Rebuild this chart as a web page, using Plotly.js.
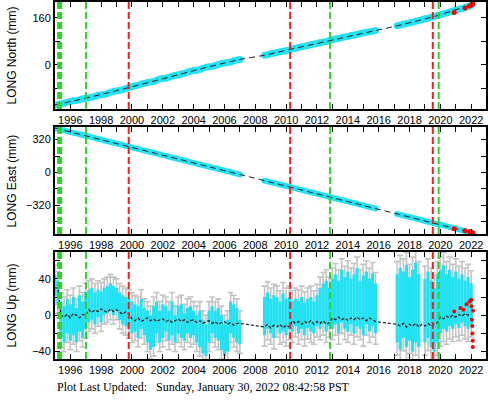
<!DOCTYPE html>
<html><head><meta charset="utf-8">
<script src="https://cdn.plot.ly/plotly-3.0.1.min.js"></script>
<style>html,body{margin:0;padding:0;background:#fff}</style>
</head><body><div id="chart" style="width:488px;height:400px"></div>
<script>
// sample epochs (decimal years)
const years = [
1995.0,1995.2,1995.4,1995.6,1995.8,1996.0,1996.2,1996.4,1996.6,1996.8,
1997.0,1997.2,1997.4,1997.6,1997.8,1998.0,1998.2,1998.4,1998.6,1998.8,
1999.0,1999.2,1999.4,1999.6,1999.8,2000.0,2000.2,2000.4,2000.6,2000.8,
2001.0,2001.2,2001.4,2001.6,2001.8,2002.0,2002.2,2002.4,2002.6,2002.8,
2003.0,2003.2,2003.4,2003.6,2003.8,2004.0,2004.2,2004.4,2004.6,2004.8,
2005.0,2005.2,2005.4,2005.6,2005.8,2006.0,2006.2,2006.4,2006.6,2006.8,
2007.0,
2008.6,2008.8,2009.0,2009.2,2009.4,2009.6,2009.8,2010.0,2010.2,2010.4,
2010.6,2010.8,2011.0,2011.2,2011.4,2011.6,2011.8,2012.0,2012.2,2012.4,
2012.6,2012.8,2013.0,2013.2,2013.4,2013.6,2013.8,2014.0,2014.2,2014.4,
2014.6,2014.8,2015.0,2015.2,2015.4,2015.6,2015.8,
2017.2,2017.4,2017.6,2017.8,2018.0,2018.2,2018.4,2018.6,2018.8,2019.0,
2019.2,2019.4,2019.6,2019.8,2020.0,2020.2,2020.4,2020.6,2020.8,2021.0,
2021.2,2021.4,2021.6,2021.8,2022.0];

const north = [
-136,-134,-132,-130,-127,-124,-122,-121,-118,-115,
-113,-112,-110,-106,-103,-101,-100,-97,-93,-90,
-88,-87,-84,-80,-77,-73,-71,-69,-65,-62,
-60,-58,-56,-52,-48,-46,-45,-42,-38,-35,
-33,-31,-28,-24,-21,-19,-18,-15,-11,-8,
-6,-5,-2,2,5,7,8,10,14,17,
19,
33,35,38,40,42,45,47,49,51,55,
57,59,62,64,66,69,71,73,76,78,
80,83,86,88,90,93,95,97,100,102,
104,107,109,111,113,115,117,
133,136,138,141,143,146,149,151,154,157,
159,162,165,168,171,174,177,180,183,186,
189,192,195,199,203];

const east = [
432,425,417,410,402,395,387,380,372,364,
357,350,342,335,327,320,312,304,297,290,
282,274,267,259,252,244,237,229,222,214,
207,199,192,184,177,169,162,154,147,139,
131,124,116,109,101,94,86,79,71,64,
56,49,41,34,26,19,11,4,-4,-11,
-19,
-79,-87,-94,-102,-109,-117,-124,-132,-139,-147,
-154,-162,-169,-177,-184,-192,-199,-207,-214,-222,
-229,-237,-244,-252,-259,-267,-274,-282,-289,-297,
-304,-312,-319,-327,-334,-342,-349,
-403,-410,-418,-425,-433,-440,-448,-455,-463,-470,
-478,-485,-493,-500,-508,-515,-523,-530,-538,-545,
-553,-560,-568,-575,-583];

// Up: dense scatter range (low / high) per sample
const upLow = [
22,12,-25,-30,-20,-28,-22,-30,-18,-25,
-15,-8,-5,-10,-2,-8,0,2,5,0,
5,-5,-10,-12,-15,-20,-18,-25,-15,-22,
-30,-38,-35,-20,-30,-25,-18,-28,-22,-30,
-20,-25,-28,-20,-25,-22,-30,-35,-42,-45,
-30,-20,-25,-28,-38,-45,-40,-20,-25,-30,
-32,
-22,-15,-20,-25,-12,-20,-18,-22,-15,-18,
-12,-20,-15,-22,-14,-18,-20,-12,-15,-10,
-18,-12,-15,-10,-20,-8,-15,-18,-10,-20,
-12,-15,-22,-10,-18,-12,-20,
-30,-38,-25,-35,-28,-40,-30,-35,null,-30,
-25,-35,-40,-30,-20,-15,-18,-12,-15,-10,
-14,-8,-12,-15,-10];
const upHigh = [
45,38,15,10,18,12,20,8,22,15,
25,28,30,25,28,26,30,32,35,32,
30,25,22,20,18,15,12,10,18,8,
5,0,10,15,5,12,10,5,15,0,
10,12,2,8,10,5,0,5,-5,-10,
5,10,5,8,0,-10,-5,15,12,8,
-5,
20,25,18,22,20,15,24,18,20,15,
18,16,20,14,18,20,15,22,30,35,
38,30,40,45,38,50,42,48,40,45,
52,38,44,48,40,46,35,
45,52,48,55,42,50,58,45,null,40,
48,38,30,45,50,55,45,50,42,48,
40,45,38,42,35];
const upSigmaBySegment = [10, 12, 14];
const segmentStarts = [1995.0, 2008.6, 2017.2];

const upModel = [
30,30,0,-2,1,-3,2,0,-3,1,
0,6,3,6,4,7,5,3,7,4,
6,3,1,4,2,-4,-6,-3,-7,-5,
-3,-6,-4,-7,-5,-4,-7,-5,-8,-6,
-4,-7,-5,-8,-6,-5,-8,-6,-9,-7,
-6,-9,-7,-10,-8,-7,-10,-8,-11,-9,
-9,
-13,-10,-14,-11,-13,-10,-14,-11,-13,-6,
-9,-7,-10,-7,-9,-6,-10,-7,-9,-6,
-10,-8,-3,-5,-2,-5,-3,-6,-3,-5,
-2,-5,-3,-6,-3,-5,-7,
-10,-12,-9,-13,-10,-12,-9,-13,-10,-12,
-9,-12,-10,-8,-2,-4,-1,-3,0,-2,
1,-1,2,0,1];

const modelYears = [1995.0,1997.0,1999.79,2002.0,2005.0,2007.0,2008.6,2010.26,2012.85,2015.8,2017.2,2019.51,2022.1];
const northModel = [-136,-113,-77,-46,-6,19,33,53,84,117,133,163,206];
const eastModel = [432,357,252,169,56,-19,-79,-141,-238,-349,-403,-489,-587];

// recent (rapid) solutions in red
const redYears = [2020.9,2021.6,2021.9,2022.05,2022.1];
const redNorth = [178,194,200,205,208];
const redEast = [-547,-565,-576,-584,-588];
const redUpYears = [2020.9,2021.3,2021.5,2021.7,2021.9,2022.0,2022.02,2022.05,2022.07,2022.08,2022.1,2022.1,2022.12];
const redUp = [4,8,6,12,15,17,10,-5,-12,-20,-28,-35,5];

const redEvents = [1999.79, 2010.26, 2019.51];
const greenEvents = [1997.02, 2012.85, 2019.89];
const greenThick = [1995.31];

const CYAN = '#22e1f2', GRAY = '#c4c4c4';

function sigmaFor(t){ let s = upSigmaBySegment[0]; segmentStarts.forEach((st,i)=>{ if(t>=st) s = upSigmaBySegment[i]; }); return s; }
const upMid = upLow.map((lo,i)=> lo===null ? null : (lo+upHigh[i])/2);

const traces = [
  {x:years, y:north, xaxis:'x', yaxis:'y', mode:'markers', marker:{color:CYAN, size:7}, hoverinfo:'skip'},
  {x:modelYears, y:northModel, xaxis:'x', yaxis:'y', mode:'lines', line:{color:'#222', width:1, dash:'6px,4px'}},
  {x:redYears, y:redNorth, xaxis:'x', yaxis:'y', mode:'markers', marker:{color:'red', size:5}},

  {x:years, y:east, xaxis:'x2', yaxis:'y2', mode:'markers', marker:{color:CYAN, size:6}},
  {x:modelYears, y:eastModel, xaxis:'x2', yaxis:'y2', mode:'lines', line:{color:'#222', width:1, dash:'6px,4px'}},
  {x:redYears, y:redEast, xaxis:'x2', yaxis:'y2', mode:'markers', marker:{color:'red', size:5}},

  {x:years, y:upMid, xaxis:'x3', yaxis:'y3', mode:'markers', marker:{size:1, opacity:0},
   error_y:{type:'data', symmetric:false,
     array: upHigh.map((h,i)=> h===null?null: h + sigmaFor(years[i]) - upMid[i]),
     arrayminus: upLow.map((l,i)=> l===null?null: upMid[i] - (l - sigmaFor(years[i]))),
     color:GRAY, thickness:1.6, width:3}},
  {x:years, y:upMid, xaxis:'x3', yaxis:'y3', mode:'markers', marker:{size:1, opacity:0},
   error_y:{type:'data', symmetric:false,
     array: upHigh.map((h,i)=> h===null?null: h - upMid[i]),
     arrayminus: upLow.map((l,i)=> l===null?null: upMid[i] - l),
     color:CYAN, thickness:3.2, width:0}},
  {x:years, y:upModel, xaxis:'x3', yaxis:'y3', mode:'lines', line:{color:'#111', width:1.2, dash:'3px,2px'}},
  {x:redUpYears, y:redUp, xaxis:'x3', yaxis:'y3', mode:'markers', marker:{color:'red', size:4}}
];

const shapes = [];
[['x','y'],['x2','y2'],['x3','y3']].forEach(([xa,ya])=>{
  const add = (e,color,w)=> shapes.push({type:'line', xref:xa, yref:ya+' domain', x0:e, x1:e, y0:0, y1:1, layer:'above', line:{color:color, width:w, dash:'7px,3px'}});
  redEvents.forEach(e=>add(e,'#ff1a1a',2));
  greenEvents.forEach(e=>add(e,'#2fd12f',2));
  greenThick.forEach(e=>add(e,'#2fd12f',5));
});

const tickFont = {family:'Liberation Sans, Arial, sans-serif', size:11, color:'#000'};
function xax(anchor){
  return {anchor:anchor, domain:[0,1], range:[1995.01,2022.96], tick0:1996, dtick:2, tickformat:'d',
    ticks:'inside', ticklen:5, tickwidth:1, tickcolor:'#000', showline:true, linewidth:2, linecolor:'#000',
    mirror:'allticks', showgrid:false, zeroline:false, tickfont:tickFont,
    minor:{tick0:1996, dtick:1, ticks:'inside', ticklen:5, tickcolor:'#000', showgrid:false}};
}
function yax(anchor, domain, range, dtick){
  return {anchor:anchor, domain:domain, range:range, tick0:0, dtick:dtick,
    ticks:'inside', ticklen:5, tickwidth:1, tickcolor:'#000', showline:true, linewidth:2, linecolor:'#000',
    mirror:'allticks', showgrid:false, zeroline:false, tickfont:tickFont,
    minor:{tick0:0, dtick:dtick/2, ticks:'inside', ticklen:5, tickcolor:'#000', showgrid:false}};
}

const titleFont = {family:'Liberation Sans, Arial, sans-serif', size:12, color:'#000'};
const layout = {
  width:488, height:400, margin:{l:55, r:2, t:2, b:41},
  paper_bgcolor:'#fff', plot_bgcolor:'#fff', showlegend:false,
  xaxis: xax('y'), xaxis2: xax('y2'), xaxis3: xax('y3'),
  yaxis: yax('x', [0.700,1], [-150,214], 160),
  yaxis2: yax('x2', [0.350,0.650], [-598,443], 320),
  yaxis3: yax('x3', [0,0.2997], [-48.2,69.6], 40),
  shapes: shapes,
  annotations: [
    {text:'LONG North (mm)', xref:'paper', yref:'paper', x:-0.0998, y:0.850, textangle:-90, showarrow:false, xanchor:'center', yanchor:'middle', font:titleFont},
    {text:'LONG East (mm)', xref:'paper', yref:'paper', x:-0.0998, y:0.500, textangle:-90, showarrow:false, xanchor:'center', yanchor:'middle', font:titleFont},
    {text:'LONG Up (mm)', xref:'paper', yref:'paper', x:-0.0998, y:0.150, textangle:-90, showarrow:false, xanchor:'center', yanchor:'middle', font:titleFont},
    {text:'Plot Last Updated:', xref:'paper', yref:'paper', x:0, y:-0.078, showarrow:false, xanchor:'left', yanchor:'middle', font:{family:'Liberation Serif, Times New Roman, serif', size:12, color:'#000'}},
    {text:'Sunday, January 30, 2022 08:42:58 PST', xref:'paper', yref:'paper', x:(154-55)/431, y:-0.078, showarrow:false, xanchor:'left', yanchor:'middle', font:{family:'Liberation Serif, Times New Roman, serif', size:12, color:'#000'}}
  ]
};

Plotly.newPlot('chart', traces, layout, {staticPlot:true, displayModeBar:false});
</script></body></html>
